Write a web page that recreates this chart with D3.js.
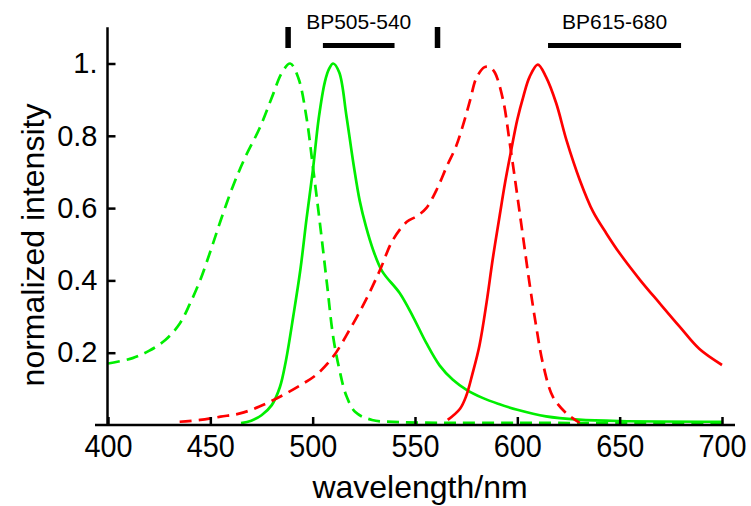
<!DOCTYPE html>
<html>
<head>
<meta charset="utf-8">
<script src="https://cdn.jsdelivr.net/npm/d3@7"></script>
<style>
body { margin: 0; background: #fff; }
text { font-family: "Liberation Sans", Arial, Helvetica, sans-serif; fill: #000; }
</style>
</head>
<body>
<div id="chart"></div>
<script>
// spectra, [wavelength nm, normalized intensity]
var greenEx = [[400,0.17],[412,0.185],[420,0.205],[428,0.235],[435,0.28],[440,0.335],[445,0.40],[450,0.48],[455,0.565],[461,0.66],[467,0.74],[474,0.82],[480,0.905],[485,0.975],[489,1.0],[493,0.96],[497,0.85],[500,0.72],[503.5,0.56],[507,0.39],[510,0.245],[513,0.155],[516.5,0.08],[521,0.035],[529,0.014],[543,0.008],[600,0.006],[700,0.005]];
var greenEm = [[465,0.005],[470,0.012],[475,0.027],[480,0.055],[484,0.105],[487,0.18],[490.5,0.30],[494,0.43],[497,0.57],[500,0.70],[503,0.85],[506,0.95],[508,0.985],[510,1.0],[513,0.975],[516.5,0.855],[520,0.72],[523,0.62],[526,0.55],[529.5,0.485],[534,0.425],[542.5,0.365],[549,0.30],[555.5,0.227],[562,0.165],[568.5,0.125],[575,0.098],[583,0.075],[591,0.058],[600,0.042],[614,0.024],[630,0.015],[650,0.011],[700,0.009]];
var redEx = [[435,0.009],[445,0.014],[455,0.023],[464.5,0.032],[474,0.051],[484,0.078],[494,0.11],[502,0.14],[510,0.189],[518,0.263],[526,0.346],[533,0.43],[539,0.51],[546,0.562],[551,0.578],[555.5,0.6],[560.5,0.65],[565.5,0.715],[570,0.77],[573.5,0.83],[577,0.9],[580,0.96],[584,0.99],[586.5,0.99],[589,0.975],[593,0.9],[596.3,0.78],[599.6,0.65],[602.8,0.52],[606,0.39],[609.3,0.27],[612.5,0.17],[617.4,0.078],[624,0.032],[630.5,0.006]];
var redEm = [[566,0.014],[572,0.045],[575,0.08],[578,0.14],[581.5,0.22],[585,0.34],[588,0.46],[591.4,0.58],[594,0.67],[597,0.76],[600,0.845],[603,0.91],[606,0.963],[610,0.997],[614,0.963],[619,0.89],[624,0.788],[630.5,0.678],[637,0.59],[643.5,0.53],[650,0.475],[660,0.401],[669.5,0.337],[679.3,0.272],[689,0.21],[700,0.166]];

var xTicks = [400,450,500,550,600,650,700];
var yTicks = [0.2,0.4,0.6,0.8,1.0];
var yTickLabels = ["0.2","0.4","0.6","0.8","1."];
var laserLines = [488,561];
var filters = [{name:"BP505-540", from:505, to:540},{name:"BP615-680", from:615, to:680}];

var svg = d3.select("#chart").append("svg").attr("width",751).attr("height",506);

var x = d3.scaleLinear().domain([400,700]).range([108,722]);
var y = d3.scaleLinear().domain([0,1.1]).range([425,27.35]);

var line = d3.line().x(function(d){return x(d[0]);}).y(function(d){return y(d[1]);}).curve(d3.curveCatmullRom.alpha(0.5));

var series = [
  {data:greenEx, color:"#00ee00", dash:"12,7"},
  {data:greenEm, color:"#00ee00", dash:null},
  {data:redEx, color:"#ff0000", dash:"12,7"},
  {data:redEm, color:"#ff0000", dash:null}
];
svg.selectAll("path.spec").data(series).enter().append("path")
  .attr("class","spec")
  .attr("d", function(d){return line(d.data);})
  .attr("fill","none")
  .attr("stroke", function(d){return d.color;})
  .attr("stroke-width",2.7)
  .attr("stroke-dasharray", function(d){return d.dash;});

// axes
var xAxis = svg.append("g").attr("transform","translate(0,425)")
  .call(d3.axisBottom(x).tickValues(xTicks).tickSizeInner(-8).tickSizeOuter(0).tickPadding(9));
xAxis.select(".domain").remove();
xAxis.selectAll(".tick line").attr("stroke","#000").attr("stroke-width",2.5);
xAxis.selectAll(".tick text").attr("font-size",32).attr("font-family",null).attr("transform","scale(0.9,1)");

var yAxis = svg.append("g").attr("transform","translate(107.5,0)")
  .call(d3.axisLeft(y).tickValues(yTicks).tickFormat(function(d,i){return yTickLabels[i];}).tickSizeInner(-8).tickSizeOuter(0).tickPadding(10));
yAxis.select(".domain").remove();
yAxis.selectAll(".tick line").attr("stroke","#000").attr("stroke-width",2.5);
yAxis.selectAll(".tick text").attr("font-size",29).attr("font-family",null);

svg.append("line").attr("x1",95).attr("x2",735).attr("y1",425).attr("y2",425).attr("stroke","#000").attr("stroke-width",2.5);
svg.append("line").attr("x1",107.5).attr("x2",107.5).attr("y1",y(1.1)).attr("y2",425).attr("stroke","#000").attr("stroke-width",2.5);

svg.append("text").attr("x",420).attr("y",498).attr("text-anchor","middle").attr("font-size",32).text("wavelength/nm");
svg.append("text").attr("transform","translate(44,245) rotate(-90)").attr("text-anchor","middle").attr("font-size",32).text("normalized intensity");

// laser lines and filter bands on top
svg.selectAll("line.laser").data(laserLines).enter().append("line")
  .attr("class","laser")
  .attr("x1",function(d){return x(d);}).attr("x2",function(d){return x(d);})
  .attr("y1",27).attr("y2",48)
  .attr("stroke","#000").attr("stroke-width",5.5);
svg.selectAll("line.band").data(filters).enter().append("line")
  .attr("class","band")
  .attr("x1",function(d){return x(d.from);}).attr("x2",function(d){return x(d.to);})
  .attr("y1",45.5).attr("y2",45.5)
  .attr("stroke","#000").attr("stroke-width",5);
svg.selectAll("text.band").data(filters).enter().append("text")
  .attr("class","band")
  .attr("x",function(d){return (x(d.from)+x(d.to))/2;})
  .attr("y",28.5)
  .attr("text-anchor","middle").attr("font-size",21)
  .text(function(d){return d.name;});
</script>
</body>
</html>
